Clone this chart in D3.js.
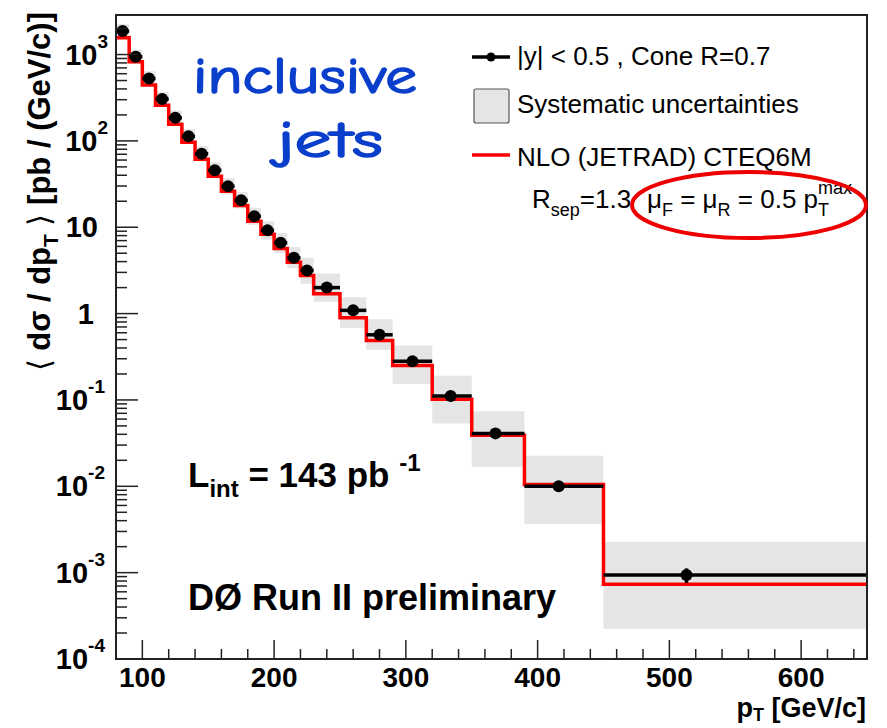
<!DOCTYPE html>
<html>
<head>
<meta charset="utf-8">
<script src="https://cdn.jsdelivr.net/npm/d3@7"></script>
<style>
  body { margin: 0; background: #fff; }
  svg { display: block; font-family: "Liberation Sans", Arial, Helvetica, sans-serif; }
</style>
</head>
<body>
<div id="chart"></div>
<script>
// bin edges in pT [GeV/c]
const binEdges = [80, 90, 100, 110, 120, 130, 140, 150, 160, 170, 180, 190, 200,
  210, 220, 230, 250, 270, 290, 320, 350, 390, 450, 650];

// measured points (pT position of marker, cross section)
const ptPoint = [85, 95, 105, 115, 125, 135, 145, 155, 165, 175, 185, 195, 205,
  215, 225, 240, 260, 280, 305, 334, 368, 416, 513];
const xsec = [1870, 943, 529, 305, 185, 113, 71, 45.7, 29.8, 20.5, 13.4, 9.2, 6.6,
  4.43, 3.16, 2.0, 1.09, 0.568, 0.28, 0.111, 0.041, 0.0100, 0.00094];
const statErr = [5, 3, 2, 1.2, 0.8, 0.5, 0.35, 0.25, 0.17, 0.12, 0.09, 0.07, 0.05,
  0.04, 0.03, 0.02, 0.012, 0.008, 0.005, 0.002, 0.001, 0.0004, 0.00018];

// systematic uncertainty band (upper / lower edge)
const sysHi = [2250, 1140, 640, 370, 224, 137, 87, 56.5, 37, 25.5, 16.8, 11.7, 8.6,
  5.9, 4.43, 2.90, 1.55, 0.861, 0.427, 0.191, 0.0738, 0.0226, 0.00227];
const sysLo = [1550, 780, 440, 253, 153, 94, 58, 37, 24, 16.5, 10.7, 7.2, 5.05,
  3.35, 2.22, 1.37, 0.684, 0.38, 0.153, 0.0534, 0.0168, 0.00364, 0.000224];

// NLO (JETRAD) CTEQ6M prediction, one value per bin
const nlo = [1567, 825, 443, 259, 156, 96.6, 61.4, 38.9, 26.1, 17.9, 11.7, 8.27, 5.69,
  3.92, 2.77, 1.70, 0.893, 0.488, 0.250, 0.102, 0.0391, 0.01047, 0.000733];

const xTicks = [100, 200, 300, 400, 500, 600];
const yTickExp = [-4, -3, -2, -1, 0, 1, 2, 3];

const W = 887, H = 728;
const plot = { left: 116, right: 867, top: 15, bottom: 659 };

const svg = d3.select("#chart").append("svg")
    .attr("width", W)
    .attr("height", H);

const x = d3.scaleLinear()
    .domain([80, 650])
    .range([plot.left, plot.right]);

const y = d3.scaleLog()
    .domain([1e-4, 2870])
    .range([plot.bottom, plot.top]);

const bins = xsec.map(function(v, i) {
  return { lo: binEdges[i], hi: binEdges[i + 1], pt: ptPoint[i], v: v,
    st: statErr[i], sHi: sysHi[i], sLo: sysLo[i], nlo: nlo[i] };
});

// systematic uncertainty boxes
svg.append("g").selectAll("rect")
  .data(bins)
  .enter().append("rect")
    .attr("x", function(d) { return x(d.lo); })
    .attr("y", function(d) { return y(d.sHi); })
    .attr("width", function(d) { return x(d.hi) - x(d.lo); })
    .attr("height", function(d) { return y(d.sLo) - y(d.sHi); })
    .attr("fill", "#e5e5e5");

// NLO step histogram
const stepPts = bins.map(function(d) { return [d.lo, d.nlo]; });
stepPts.push([binEdges[binEdges.length - 1], nlo[nlo.length - 1]]);

svg.append("path")
    .datum(stepPts)
    .attr("d", d3.line()
        .x(function(d) { return x(d[0]); })
        .y(function(d) { return y(d[1]); })
        .curve(d3.curveStepAfter))
    .attr("fill", "none")
    .attr("stroke", "#ff0000")
    .attr("stroke-width", 3.5);

// data: horizontal bin bars
svg.append("g").selectAll("line")
  .data(bins)
  .enter().append("line")
    .attr("x1", function(d) { return x(d.lo); })
    .attr("x2", function(d) { return x(d.hi); })
    .attr("y1", function(d) { return y(d.v); })
    .attr("y2", function(d) { return y(d.v); })
    .attr("stroke", "#000")
    .attr("stroke-width", 3.5);

// statistical errors
svg.append("g").selectAll("line")
  .data(bins)
  .enter().append("line")
    .attr("x1", function(d) { return x(d.pt); })
    .attr("x2", function(d) { return x(d.pt); })
    .attr("y1", function(d) { return y(d.v + d.st); })
    .attr("y2", function(d) { return y(d.v - d.st); })
    .attr("stroke", "#000")
    .attr("stroke-width", 3.5);

// markers
svg.append("g").selectAll("circle")
  .data(bins)
  .enter().append("circle")
    .attr("cx", function(d) { return x(d.pt); })
    .attr("cy", function(d) { return y(d.v); })
    .attr("r", 6)
    .attr("fill", "#000");

// frame
svg.append("rect")
    .attr("x", plot.left)
    .attr("y", plot.top)
    .attr("width", plot.right - plot.left)
    .attr("height", plot.bottom - plot.top)
    .attr("fill", "none")
    .attr("stroke", "#222")
    .attr("stroke-width", 2);

// x axis ticks (inward)
const xMinor = d3.range(120, 650, 20).filter(function(v) { return v % 100 !== 0; });
svg.append("g").selectAll("line")
  .data(xMinor)
  .enter().append("line")
    .attr("x1", function(d) { return x(d); })
    .attr("x2", function(d) { return x(d); })
    .attr("y1", plot.bottom)
    .attr("y2", plot.bottom - 10)
    .attr("stroke", "#222")
    .attr("stroke-width", 1.5);

svg.append("g").selectAll("line")
  .data(xTicks)
  .enter().append("line")
    .attr("x1", function(d) { return x(d); })
    .attr("x2", function(d) { return x(d); })
    .attr("y1", plot.bottom)
    .attr("y2", plot.bottom - 19)
    .attr("stroke", "#222")
    .attr("stroke-width", 1.5);

svg.append("g").selectAll("text")
  .data(xTicks)
  .enter().append("text")
    .attr("x", function(d) { return x(d); })
    .attr("y", 687)
    .attr("text-anchor", "middle")
    .attr("font-size", 28)
    .attr("font-weight", "bold")
    .text(function(d) { return d; });

// y axis ticks (inward)
const yMinor = [];
yTickExp.slice(0, -1).forEach(function(e) {
  for (let k = 2; k <= 9; k++) yMinor.push(k * Math.pow(10, e));
});
yMinor.push(2000);

svg.append("g").selectAll("line")
  .data(yMinor)
  .enter().append("line")
    .attr("x1", plot.left)
    .attr("x2", plot.left + 11)
    .attr("y1", function(d) { return y(d); })
    .attr("y2", function(d) { return y(d); })
    .attr("stroke", "#222")
    .attr("stroke-width", 1.5);

svg.append("g").selectAll("line")
  .data(yTickExp)
  .enter().append("line")
    .attr("x1", plot.left)
    .attr("x2", plot.left + 22)
    .attr("y1", function(d) { return y(Math.pow(10, d)); })
    .attr("y2", function(d) { return y(Math.pow(10, d)); })
    .attr("stroke", "#222")
    .attr("stroke-width", 1.5);

yTickExp.forEach(function(e) {
  const ty = y(Math.pow(10, e)) + 10;
  if (e === 0 || e === 1) {
    svg.append("text")
        .attr("x", e === 0 ? 94 : 98)
        .attr("y", ty)
        .attr("text-anchor", "end")
        .attr("font-size", 29)
        .attr("font-weight", "bold")
        .text(e === 0 ? "1" : "10");
  } else {
    const t = svg.append("text")
        .attr("x", e > 0 ? 108 : 105)
        .attr("y", ty)
        .attr("text-anchor", "end")
        .attr("font-weight", "bold");
    t.append("tspan").attr("font-size", 29).text("10");
    t.append("tspan").attr("font-size", 19).attr("dy", -17).text(e);
  }
});

// axis titles
const xt = svg.append("text")
    .attr("x", 866)
    .attr("y", 717)
    .attr("text-anchor", "end")
    .attr("font-size", 27)
    .attr("font-weight", "bold");
xt.append("tspan").text("p");
xt.append("tspan").attr("font-size", 18).attr("dy", 4).text("T");
xt.append("tspan").attr("dy", -4).text(" [GeV/c]");

const yt = svg.append("text")
    .attr("transform", "translate(50,12) rotate(-90)")
    .attr("text-anchor", "end")
    .attr("font-size", 31)
    .attr("font-weight", "bold");
yt.append("tspan").attr("font-weight", "normal").text("\u27E8");
yt.append("tspan").text("  d\u03C3 / dp");
yt.append("tspan").attr("font-size", 21).attr("dy", 8).text("T");
yt.append("tspan").attr("dy", -8).text("  ");
yt.append("tspan").attr("font-weight", "normal").text("\u27E9");
yt.append("tspan").text("  [pb / (GeV/c)]");

// legend
const legX1 = 472, legX2 = 510, legText = 517;
svg.append("line")
    .attr("x1", legX1).attr("x2", legX2)
    .attr("y1", 57).attr("y2", 57)
    .attr("stroke", "#000").attr("stroke-width", 3.5);
svg.append("circle")
    .attr("cx", 491).attr("cy", 57).attr("r", 4.5).attr("fill", "#000");
svg.append("text")
    .attr("x", legText).attr("y", 65)
    .attr("font-size", 26)
    .text("|y| < 0.5 , Cone R=0.7");

svg.append("rect")
    .attr("x", 474).attr("y", 89)
    .attr("width", 35).attr("height", 34)
    .attr("rx", 2)
    .attr("fill", "#e5e5e5")
    .attr("stroke", "#555")
    .attr("stroke-width", 1.2);
svg.append("text")
    .attr("x", legText).attr("y", 113)
    .attr("font-size", 26)
    .text("Systematic uncertainties");

svg.append("line")
    .attr("x1", legX1).attr("x2", legX2)
    .attr("y1", 155).attr("y2", 155)
    .attr("stroke", "#ff0000").attr("stroke-width", 3.5);
svg.append("text")
    .attr("x", legText).attr("y", 166)
    .attr("font-size", 26)
    .text("NLO (JETRAD) CTEQ6M");

const rs = svg.append("text")
    .attr("x", 532).attr("y", 208)
    .attr("font-size", 26);
rs.append("tspan").text("R");
rs.append("tspan").attr("font-size", 18).attr("dy", 8).text("sep");
rs.append("tspan").attr("dy", -8).text("=1.3");

const mu = svg.append("text")
    .attr("x", 647).attr("y", 208)
    .attr("font-size", 26);
mu.append("tspan").text("\u03BC");
mu.append("tspan").attr("font-size", 18).attr("dy", 8).text("F");
mu.append("tspan").attr("dy", -8).text(" = \u03BC");
mu.append("tspan").attr("font-size", 18).attr("dy", 8).text("R");
mu.append("tspan").attr("dy", -8).text(" = 0.5 p");
mu.append("tspan").attr("font-size", 18).attr("dy", 8).text("T");
mu.append("tspan").attr("font-size", 18).attr("dx", -11).attr("dy", -22).text("max");

// red ellipse annotation
svg.append("ellipse")
    .attr("cx", 749).attr("cy", 205)
    .attr("rx", 117).attr("ry", 33)
    .attr("fill", "none")
    .attr("stroke", "#ee0000")
    .attr("stroke-width", 4);

// labels inside plot
const handFont = "'Comic Sans MS', 'Comic Neue', 'DejaVu Sans', sans-serif";
svg.append("text")
    .attr("x", 193).attr("y", 93)
    .attr("font-family", handFont)
    .attr("font-size", 50)
    .attr("textLength", 224)
    .attr("lengthAdjust", "spacingAndGlyphs")
    .attr("fill", "#0a3fcc")
    .attr("stroke", "#0a3fcc")
    .attr("stroke-width", 1.6)
    .text("inclusive");
svg.append("text")
    .attr("x", 277).attr("y", 157)
    .attr("font-family", handFont)
    .attr("font-size", 50)
    .attr("textLength", 106)
    .attr("lengthAdjust", "spacingAndGlyphs")
    .attr("fill", "#0a3fcc")
    .attr("stroke", "#0a3fcc")
    .attr("stroke-width", 1.6)
    .text("jets");

const lint = svg.append("text")
    .attr("x", 188).attr("y", 487)
    .attr("font-size", 35)
    .attr("font-weight", "bold");
lint.append("tspan").text("L");
lint.append("tspan").attr("font-size", 24).attr("dy", 10).text("int");
lint.append("tspan").attr("dy", -10).text(" = 143 pb ");
lint.append("tspan").attr("font-size", 24).attr("dy", -16).text("-1");

svg.append("text")
    .attr("x", 188).attr("y", 610)
    .attr("font-size", 36)
    .attr("font-weight", "bold")
    .text("D\u00D8 Run II preliminary");
</script>
</body>
</html>
